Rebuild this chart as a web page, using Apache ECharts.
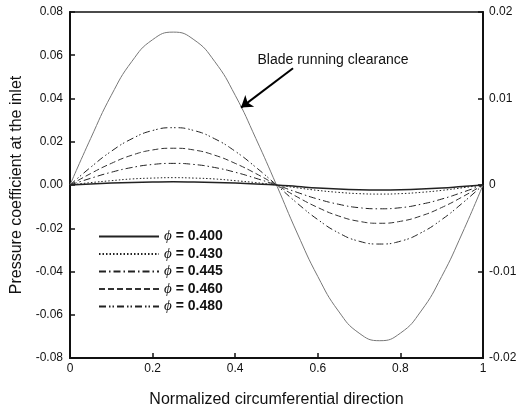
<!DOCTYPE html>
<html>
<head>
<meta charset="utf-8">
<script src="https://cdn.jsdelivr.net/npm/echarts@6/dist/echarts.min.js"></script>
<style>html,body{margin:0;padding:0;background:#fff;}#c{width:522px;height:414px;}</style>
</head>
<body>
<div id="c"></div>
<script>
const xs = [0,0.05,0.1,0.15,0.2,0.25,0.3,0.35,0.4,0.45,0.5,0.55,0.6,0.65,0.7,0.75,0.8,0.85,0.9,0.95,1];
const bladeClearance = [0,0.0215,0.0415,0.0572,0.0672,0.0707,0.0672,0.0572,0.0415,0.0215,0,-0.0222,-0.0423,-0.0583,-0.0685,-0.0720,-0.0685,-0.0583,-0.0423,-0.0222,0];
const phi400 = [0,0.0005,0.0009,0.0012,0.0014,0.0015,0.0014,0.0012,0.0009,0.0005,0,-0.0007,-0.0014,-0.0019,-0.0022,-0.0023,-0.0022,-0.0019,-0.0014,-0.0007,0];
const phi430 = [0,0.0011,0.0020,0.0028,0.0032,0.0034,0.0032,0.0028,0.0020,0.0011,0,-0.0013,-0.0025,-0.0034,-0.0040,-0.0042,-0.0040,-0.0034,-0.0025,-0.0013,0];
const phi445 = [0,0.0031,0.0059,0.0081,0.0095,0.0100,0.0095,0.0081,0.0059,0.0031,0,-0.0034,-0.0065,-0.0089,-0.0105,-0.0110,-0.0105,-0.0089,-0.0065,-0.0034,0];
const phi460 = [0,0.0053,0.0100,0.0138,0.0162,0.0170,0.0162,0.0138,0.0100,0.0053,0,-0.0055,-0.0104,-0.0143,-0.0168,-0.0177,-0.0168,-0.0143,-0.0104,-0.0055,0];
const phi480 = [0,0.0082,0.0156,0.0214,0.0252,0.0265,0.0252,0.0214,0.0156,0.0082,0,-0.0084,-0.0160,-0.0221,-0.0260,-0.0273,-0.0260,-0.0221,-0.0160,-0.0084,0];
const phiNames = ['0.400','0.430','0.445','0.460','0.480'];
const xTickLabels = {0:'0',0.2:'0.2',0.4:'0.4',0.6:'0.6',0.8:'0.8',1:'1'};
const annotationText = 'Blade running clearance';

function pairs(arr){ return xs.map((x,i)=>[x,arr[i]]); }

const chart = echarts.init(document.getElementById('c'));
const font = 'Arial, "Liberation Sans", Helvetica, sans-serif';
const axisLine = {show:true, onZero:false, lineStyle:{color:'#111', width:2}};
const tick = {show:true, inside:true, length:5, lineStyle:{color:'#111', width:1.5}};
const styles = [
  {type:'solid', width:1.5, color:'#222'},
  {type:[1.5,2], width:1, color:'#222'},
  {type:[7,3,1.5,3], width:1, color:'#222'},
  {type:[6,3], width:1, color:'#333'},
  {type:[7,3,1.5,2,1.5,3], width:1, color:'#222'}
];
const phiData = [phi400, phi430, phi445, phi460, phi480];
const series = [{
  name: annotationText,
  type:'line', data: pairs(bladeClearance), smooth:true, symbol:'none',
  lineStyle:{color:'#777', width:1}, z:2,
  markLine:{
    silent:true, symbol:['none','arrow'], symbolSize:11,
    label:{show:false},
    lineStyle:{color:'#000', width:2, type:'solid'},
    data:[[{coord:[0.54,0.054]},{coord:[0.414,0.0358]}]]
  }
}];
phiNames.forEach((n,i)=>{
  series.push({name:n, type:'line', data:pairs(phiData[i]), smooth:true, symbol:'none', lineStyle:styles[i], itemStyle:{color:styles[i].color}});
});

chart.setOption({
  animation:false,
  grid:{left:70, right:39, top:12, bottom:56, show:true, borderColor:'#111', borderWidth:1.5},
  legend:{
    data:phiNames, orient:'vertical', left:93, top:224, itemWidth:60, itemHeight:10, itemGap:2.5,
    itemStyle:{opacity:0},
    formatter: n => '{i|\u03D5} = ' + n,
    textStyle:{fontFamily:font, fontSize:14, fontWeight:'bold', color:'#111',
      rich:{i:{fontFamily:'"Liberation Serif", "DejaVu Serif", serif', fontStyle:'italic', fontSize:15, fontWeight:'normal', color:'#111'}}}
  },
  xAxis:{
    type:'value', min:0, max:1, interval:0.2,
    name:'Normalized circumferential direction', nameLocation:'middle', nameGap:34,
    nameTextStyle:{fontFamily:font, fontSize:16, color:'#111'},
    axisLine: axisLine, axisTick: tick,
    axisLabel:{fontFamily:font, fontSize:12, color:'#111', margin:5, formatter: v => xTickLabels[Math.round(v*10)/10] ?? String(v)},
    splitLine:{show:false}
  },
  yAxis:[{
    type:'value', min:-0.08, max:0.08, interval:0.02, position:'left',
    name:'Pressure coefficient at the inlet', nameLocation:'middle', nameGap:42, nameRotate:90,
    nameTextStyle:{fontFamily:font, fontSize:16, color:'#111'},
    axisLine: axisLine, axisTick: tick,
    axisLabel:{fontFamily:font, fontSize:12, color:'#111', margin:7, formatter: v => v.toFixed(2)},
    splitLine:{show:false}
  },{
    type:'value', min:-0.02, max:0.02, interval:0.01, position:'right',
    axisLine: axisLine, axisTick: tick,
    axisLabel:{fontFamily:font, fontSize:12, color:'#111', margin:6, formatter: v => (Math.abs(v)<1e-9 ? '0' : String(Math.round(v*100)/100))},
    splitLine:{show:false}
  }],
  series: series
});

const p = chart.convertToPixel({gridIndex:0}, [0.454, 0.0573]);
chart.setOption({
  graphic:[{type:'text', left:p[0], top:p[1]-8, style:{text:annotationText, fontFamily:font, fontSize:14, fill:'#111'}}]
});
</script>
</body>
</html>
